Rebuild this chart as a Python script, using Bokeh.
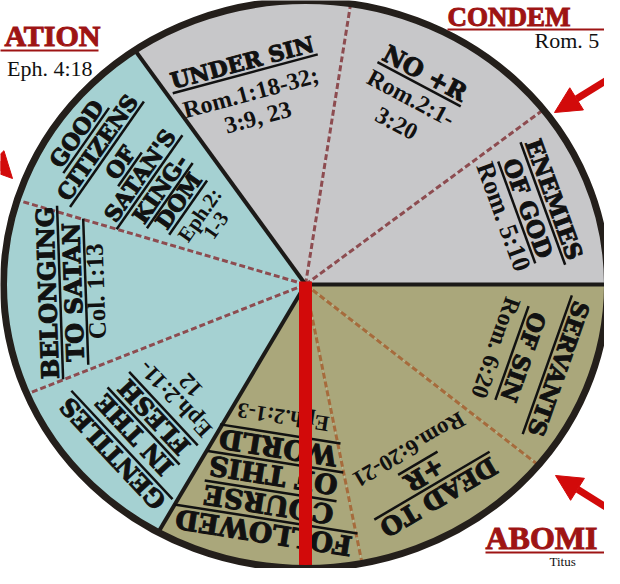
import numpy as np
from bokeh.plotting import figure
from bokeh.models import Range1d, Arrow, NormalHead
from bokeh.core.properties import value
from bokeh.embed import file_html
from bokeh.resources import INLINE

# ---------------- data ----------------
slice_titles = [["ENEMIES", "OF GOD"], ["NO +R"], ["UNDER SIN"],
                ["GOOD", "CITIZENS", "OF", "SATAN'S", "KING-", "DOM"],
                ["BELONGING", "TO SATAN"], ["GENTILES", "IN THE", "FLESH"],
                ["FOLLOWED", "COURSE", "OF THIS", "WORLD"], ["DEAD TO", "+R"],
                ["SERVANTS", "OF SIN"]]
slice_refs = [["Rom. 5:10"], ["Rom.2:1-", "3:20"], ["Rom.1:18-32;", "3:9, 23"],
              ["Eph.2:", "1-3"], ["Col. 1:13"], ["Eph.2:11-", "12"],
              ["Eph.2:1-3"], ["Rom.6:20-21"], ["Rom. 6:20"]]
slice_start_deg = [0.0, 38.0, 81.4, 124.4, 162.7, 202.7, 240.8, 280.8, 320.5]
slice_end_deg = [38.0, 81.4, 124.4, 162.7, 202.7, 240.8, 280.8, 320.5, 360.0]
slice_group = ["gray", "gray", "gray", "blue", "blue", "blue", "olive", "olive", "olive"]
marker_deg = 270.0

outer_titles = ["ATION", "CONDEM", "ABOMI"]
outer_refs = ["Eph. 4:18", "Rom. 5", "Titus"]

# ---------------- layout / style ----------------
RX, RY = 302.0, 284.0
group_fill = {"gray": "#c7c7c9", "blue": "#a5d1d2", "olive": "#aaa77b"}
dash_color = {"gray": "#8d4c50", "blue": "#8d4c50", "olive": "#a66b3c"}
RIM = "#241f1b"
RED = "#d20a0a"
DARKRED = "#9e1414"
INK = "#111111"
TITLE_FONT = "DejaVu Serif"
REF_FONT = "Liberation Serif"

label_deg = [20, 62, 105, 145, 182, 223, 261, 300.5, 340.5]
line_radii = [[0.877, 0.785, 0.698], [0.843, 0.744, 0.643], [0.81, 0.70, 0.61],
              [0.926, 0.842, 0.749, 0.67, 0.588, 0.514, 0.427, 0.363],
              [0.855, 0.77, 0.695], [0.873, 0.775, 0.685, 0.59, 0.52],
              [0.884, 0.784, 0.68, 0.581, 0.473], [0.868, 0.776, 0.674],
              [0.89, 0.766, 0.669]]
title_px = [23, 24, 22, 22, 24, 24, 27, 25, 23]
ref_px = [26, 24, 24, 21, 25, 23, 22, 23, 24]

char_w = {"I": 0.47, "M": 1.05, "W": 1.12, " ": 0.35, "'": 0.3, "-": 0.42, "+": 0.84,
          "O": 0.85, "N": 0.89, "D": 0.83, "G": 0.82, "U": 0.87, "H": 0.94}


def est_width(s, size):
    return sum(char_w.get(c, 0.75) for c in s) * size


def ell(r, deg):
    a = np.radians(deg)
    return r * RX * np.cos(a), r * RY * np.sin(a)


p = figure(width=604, height=568, x_range=Range1d(-305, 299), y_range=Range1d(-284, 284),
           output_backend="svg", toolbar_location=None, min_border=0,
           x_axis_type=None, y_axis_type=None)
p.grid.visible = False
p.outline_line_color = None
p.background_fill_color = "white"
p.border_fill_color = "white"

# slices
xs, ys, fills = [], [], []
for s, e, g in zip(slice_start_deg, slice_end_deg, slice_group):
    t = np.linspace(s, e, 60)
    ex, ey = ell(1.0, t)
    xs.append(np.concatenate([[0.0], ex, [0.0]]))
    ys.append(np.concatenate([[0.0], ey, [0.0]]))
    fills.append(group_fill[g])
p.patches(xs=xs, ys=ys, fill_color=fills, line_color=None)

# boundaries
n = len(slice_start_deg)
for i in range(n):
    g_prev = slice_group[i - 1]
    g_cur = slice_group[i]
    bx, by = ell(1.0, slice_start_deg[i])
    if g_prev == g_cur:
        p.segment(x0=[0], y0=[0], x1=[bx], y1=[by], line_color=dash_color[g_cur],
                  line_width=3, line_dash="6 3")
    else:
        p.segment(x0=[0], y0=[0], x1=[bx], y1=[by], line_color="#1c1a18", line_width=4)

# slice labels
tx, ty, tt, ta, tsz = [], [], [], [], []
rx_, ry_, rt, ra, rsz = [], [], [], [], []
ux0, uy0, ux1, uy1 = [], [], [], []
for i in range(n):
    deg = label_deg[i]
    theta = np.radians(deg - 90)
    u = np.array([np.cos(theta), np.sin(theta)])
    d = np.array([np.sin(theta), -np.cos(theta)])
    radii = line_radii[i]
    k = 0
    for line in slice_titles[i]:
        cx, cy = ell(radii[k], deg)
        tx.append(cx); ty.append(cy); tt.append(line); ta.append(theta)
        tsz.append(f"{title_px[i]}px")
        w = est_width(line, title_px[i]) + 6
        off = 0.36 * title_px[i] + 4
        mx, my = cx + d[0] * off, cy + d[1] * off
        ux0.append(mx - u[0] * w / 2); uy0.append(my - u[1] * w / 2)
        ux1.append(mx + u[0] * w / 2); uy1.append(my + u[1] * w / 2)
        k += 1
    for line in slice_refs[i]:
        cx, cy = ell(radii[k], deg)
        rx_.append(cx); ry_.append(cy); rt.append(line); ra.append(theta)
        rsz.append(f"{ref_px[i]}px")
        k += 1

p.text(x=tx, y=ty, text=tt, angle=ta, text_font_size=tsz, text_font=value(TITLE_FONT),
       text_font_style="bold", text_align="center", text_baseline="middle",
       text_color=INK, text_outline_color=INK)
p.segment(x0=ux0, y0=uy0, x1=ux1, y1=uy1, line_color=INK, line_width=2.5)
p.text(x=rx_, y=ry_, text=rt, angle=ra, text_font_size=rsz, text_font=value(REF_FONT),
       text_font_style="bold", text_align="center", text_baseline="middle",
       text_color=INK)

# red bar
mx, my = ell(1.1, marker_deg)
p.segment(x0=[0], y0=[3], x1=[mx], y1=[my], line_color=RED, line_width=13)

# rim
p.ellipse(x=[0], y=[0], width=[2 * RX], height=[2 * RY], fill_color=None,
          line_color=RIM, line_width=7)

# outer labels (page px -> data: x = px - 313, y = 292 - py)
p.text(x=[-205], y=[249], text=[outer_titles[0]], text_align="right",
       text_baseline="middle", text_font=value(REF_FONT), text_font_style="bold",
       text_font_size="30px", text_color=DARKRED, text_outline_color=DARKRED)
p.text(x=[142], y=[268], text=[outer_titles[1]], text_align="left",
       text_baseline="middle", text_font=value(REF_FONT), text_font_style="bold",
       text_font_size="27px", text_color=DARKRED, text_outline_color=DARKRED)
p.text(x=[180], y=[-253], text=[outer_titles[2]], text_align="left",
       text_baseline="middle", text_font=value(REF_FONT), text_font_style="bold",
       text_font_size="32px", text_color=DARKRED, text_outline_color=DARKRED)
p.segment(x0=[-310, 142, 180], y0=[234, 255, -268], x1=[-207, 305, 305], y1=[234, 255, -268],
          line_color=DARKRED, line_width=2)
p.text(x=[-213], y=[216], text=[outer_refs[0]], text_align="right",
       text_baseline="middle", text_font=value(REF_FONT), text_font_size="22px",
       text_color=INK)
p.text(x=[229], y=[244], text=[outer_refs[1]], text_align="left",
       text_baseline="middle", text_font=value(REF_FONT), text_font_size="22px",
       text_color=INK)
p.text(x=[244], y=[-277], text=[outer_refs[2]], text_align="left",
       text_baseline="middle", text_font=value(REF_FONT), text_font_size="13px",
       text_color=INK)

# arrows
for (x0, y0, x1, y1) in [(-335, 150, -293, 106), (317, 214, 249, 172), (317, -233, 250, -191)]:
    p.add_layout(Arrow(end=NormalHead(size=26, fill_color=RED, line_color=RED),
                       x_start=x0, y_start=y0, x_end=x1, y_end=y1,
                       line_color=RED, line_width=7))

open("out.html", "w").write(file_html(p, INLINE))
